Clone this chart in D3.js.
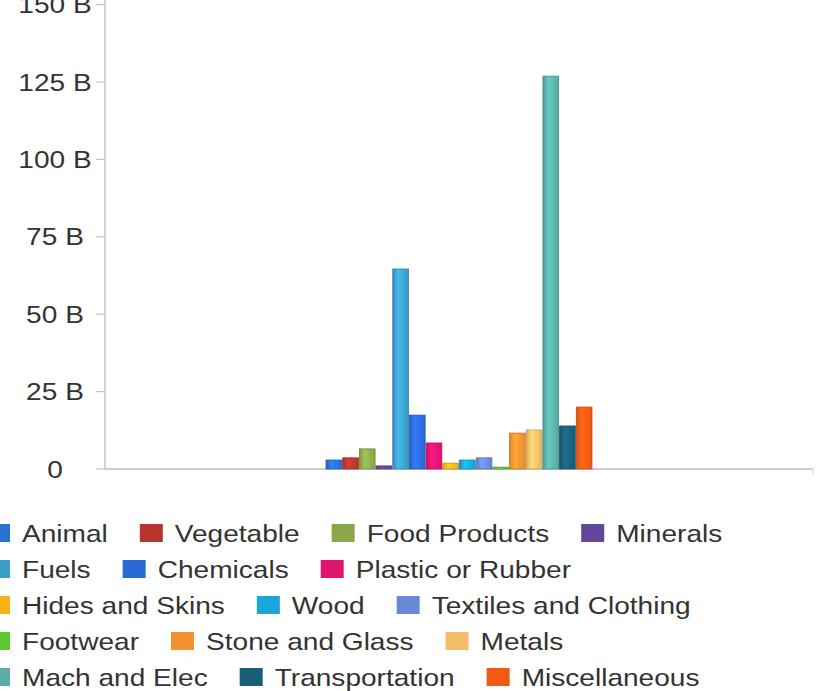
<!DOCTYPE html>
<html>
<head>
<meta charset="utf-8">
<script src="https://cdn.jsdelivr.net/npm/d3@7"></script>
<style>
  html, body { margin: 0; padding: 0; background: #fff; }
  svg { display: block; }
  text { font-family: "Liberation Sans", Arial, sans-serif; fill: #333; }
</style>
</head>
<body>
<svg id="chart" width="821" height="691"></svg>
<script>
const categories = ["Animal","Vegetable","Food Products","Minerals","Fuels","Chemicals","Plastic or Rubber","Hides and Skins","Wood","Textiles and Clothing","Footwear","Stone and Glass","Metals","Mach and Elec","Transportation","Miscellaneous"];
const values = [2.9, 3.6, 6.5, 1.0, 64.6, 17.4, 8.4, 1.9, 2.9, 3.6, 0.6, 11.6, 12.6, 126.9, 13.9, 20.0]; // billions
const colors = ["#2a6fd4","#b8352e","#8aa84a","#60479a","#3a9ec8","#2a6ad8","#e0136e","#f7b21a","#1aa6d8","#6a88d8","#5cc834","#f59030","#f4bc68","#58aea6","#175e78","#f25a14"];
const groups = [""];
const yTicks = [0, 25, 50, 75, 100, 125, 150];
const yTickLabels = ["0", "25 B", "50 B", "75 B", "100 B", "125 B", "150 B"];
const legendRows = [
  ["Animal","Vegetable","Food Products","Minerals"],
  ["Fuels","Chemicals","Plastic or Rubber"],
  ["Hides and Skins","Wood","Textiles and Clothing"],
  ["Footwear","Stone and Glass","Metals"],
  ["Mach and Elec","Transportation","Miscellaneous"]
];

const svg = d3.select("#chart");
const SX = 1.17, FS = 24;
const x0 = 105, x1 = 813, yBase = 469;

const y = d3.scaleLinear().domain([0, 150]).range([yBase, yBase - 6 * 77.4]);
const xg = d3.scaleBand().domain(groups).range([x0, x1]).paddingInner(0).paddingOuter(0.826);
const xc = d3.scaleBand().domain(categories).range([0, xg.bandwidth()]).padding(0);
const color = d3.scaleOrdinal().domain(categories).range(colors);

// gradients
const defs = svg.append("defs");
categories.forEach((c, i) => {
  const base = d3.color(colors[i]);
  const g = defs.append("linearGradient").attr("id", "g" + i).attr("x1", "0").attr("x2", "1").attr("y1", "0").attr("y2", "0");
  g.append("stop").attr("offset", "0%").attr("stop-color", base.darker(0.3));
  g.append("stop").attr("offset", "35%").attr("stop-color", base.brighter(0.45));
  g.append("stop").attr("offset", "100%").attr("stop-color", base.darker(0.1));
});

// y axis
const yAxis = svg.append("g");
yAxis.append("line").attr("x1", x0).attr("x2", x0).attr("y1", 0).attr("y2", yBase)
  .attr("stroke", "#c4c4c4").attr("stroke-width", 1.5);
yAxis.selectAll("line.tick").data(yTicks).join("line").attr("class", "tick")
  .attr("x1", x0 - 9).attr("x2", x0).attr("y1", d => y(d)).attr("y2", d => y(d))
  .attr("stroke", "#c4c4c4").attr("stroke-width", 1.2);
yAxis.selectAll("text").data(yTicks).join("text")
  .attr("transform", d => `translate(55,${y(d) + 8.5}) scale(${SX},1)`)
  .attr("text-anchor", "middle").attr("font-size", FS)
  .text((d, i) => yTickLabels[i]);

// x axis
svg.append("line").attr("x1", x0).attr("x2", x1).attr("y1", yBase).attr("y2", yBase)
  .attr("stroke", "#bdbdbd").attr("stroke-width", 1.5);
svg.append("line").attr("x1", x1).attr("x2", x1).attr("y1", yBase).attr("y2", yBase + 6)
  .attr("stroke", "#d0d0d0").attr("stroke-width", 1);

// bars
const gBars = svg.append("g").attr("transform", `translate(${xg("")},0)`);
gBars.selectAll("rect").data(categories).join("rect")
  .attr("x", d => xc(d) + 0.5)
  .attr("width", xc.bandwidth() - 1)
  .attr("y", (d, i) => y(values[i]))
  .attr("height", (d, i) => yBase - y(values[i]))
  .attr("fill", (d, i) => `url(#g${i})`)
  .attr("stroke", d => d3.color(color(d)).darker(0.6))
  .attr("stroke-width", 0.8);

// legend
const legend = svg.append("g");
const swW = 23, swH = 18, gapText = 12, gapItem = 32;
legendRows.forEach((row, r) => {
  const base = 542 + r * 36;
  let cx = -13;
  row.forEach(name => {
    legend.append("rect").attr("x", cx).attr("y", base - 18).attr("width", swW).attr("height", swH)
      .attr("fill", color(name));
    const t = legend.append("text")
      .attr("transform", `translate(${cx + swW + gapText},${base}) scale(${SX},1)`)
      .attr("font-size", FS).text(name);
    const w = t.node().getComputedTextLength() * SX;
    cx += swW + gapText + w + gapItem;
  });
});
</script>
</body>
</html>
